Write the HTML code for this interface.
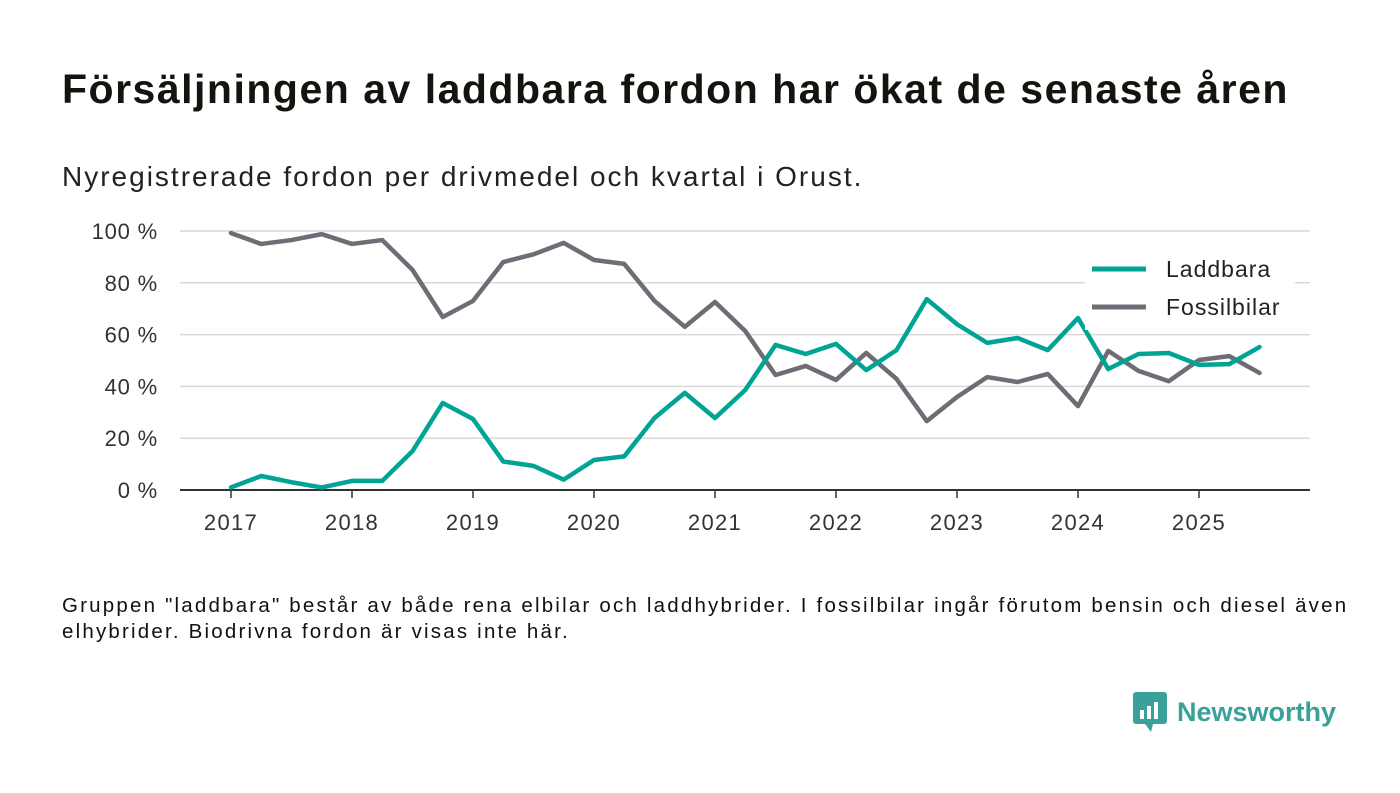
<!DOCTYPE html>
<html><head><meta charset="utf-8"><style>
body{margin:0;width:1400px;height:793px;background:#fff;font-family:"Liberation Sans","DejaVu Sans",sans-serif;overflow:hidden;position:relative}
.t{position:absolute;left:62px;top:66px;font-size:41px;letter-spacing:1.5px;font-weight:bold;color:#14140f;margin:0;white-space:nowrap}
.s{position:absolute;left:62px;top:161px;font-size:28px;letter-spacing:2px;color:#222;white-space:nowrap}
.n{position:absolute;left:62px;top:593px;font-size:20.5px;letter-spacing:2.2px;color:#111;line-height:26px;width:1330px;white-space:nowrap}
.logo{position:absolute;left:1133px;top:692px;display:flex;align-items:center;gap:10px;color:#3aa19a;font-weight:bold;font-size:27px}
</style></head><body>
<h1 class="t">Försäljningen av laddbara fordon har ökat de senaste åren</h1>
<div class="s">Nyregistrerade fordon per drivmedel och kvartal i Orust.</div>
<svg id="c" width="1400" height="793" style="position:absolute;left:0;top:0"></svg>
<div class="n">Gruppen "laddbara" består av både rena elbilar och laddhybrider. I fossilbilar ingår förutom bensin och diesel även<br>elhybrider. Biodrivna fordon är visas inte här.</div>
<div class="logo"><svg width="34" height="40" viewBox="0 0 34 40"><rect x="0" y="0" width="34" height="32" rx="3" fill="#3aa19a"/><path d="M12 32 L18 40 L20 32Z" fill="#3aa19a"/><rect x="7" y="18" width="4" height="9" fill="#fff"/><rect x="14" y="14" width="4" height="13" fill="#fff"/><rect x="21" y="10" width="4" height="17" fill="#fff"/></svg><span>Newsworthy</span></div>
<script>
const years=["2017","2018","2019","2020","2021","2022","2023","2024","2025"];
const yTicks=[0,20,40,60,80,100];
const laddbara=[1,5.4,3,1,3.5,3.5,15,33.6,27.4,11,9.3,4,11.6,13,27.8,37.5,27.8,38.6,56,52.5,56.4,46.3,54,73.7,64,56.8,58.7,54,66.4,46.7,52.5,52.9,48.3,48.6,55.2];
const fossil=[99.2,95,96.5,98.8,95,96.5,85,66.8,73,88,91,95.4,88.8,87.3,73,63,72.6,61.4,44.4,47.9,42.5,52.9,42.9,26.6,35.9,43.6,41.7,44.8,32.4,53.7,46,42,50.2,51.7,45.2];
const NS="http://www.w3.org/2000/svg",svg=document.getElementById('c');
const x=i=>231+i*(1199-231)/32, y=v=>490-v*2.59;
function mk(t,a,txt){const e=document.createElementNS(NS,t);for(const k in a)e.setAttribute(k,a[k]);if(txt!=null)e.textContent=txt;svg.appendChild(e);return e;}
yTicks.forEach(v=>{
 if(v>0){const g=mk('line',{x1:180,x2:1310,y1:y(v),y2:y(v),stroke:'#d9d9d9','stroke-width':1.5});
 
 }
 const t=mk('text',{x:158,y:y(v)+8,'text-anchor':'end','font-size':22,'letter-spacing':0.8,fill:'#333'},v+' %');
 
 
});
const ax=mk('line',{x1:180,x2:1310,y1:490,y2:490,stroke:'#333','stroke-width':2});


years.forEach((yr,i)=>{
 const px=x(i*4);
 mk('line',{x1:px,x2:px,y1:490,y2:498,stroke:'#333','stroke-width':1.5});
 const t=mk('text',{x:px,y:530,'text-anchor':'middle','font-size':22,'letter-spacing':1.3,fill:'#333'},yr);
 
 
});
function line(d,c,n){const p=mk('polyline',{points:d.map((v,i)=>x(i)+','+y(v)).join(' '),fill:'none',stroke:c,'stroke-width':4.5,'stroke-linejoin':'round','stroke-linecap':'round'});
 
 }
line(fossil,'#6e6d75','fossilbilar-line');
line(laddbara,'#00a495','laddbara-line');
mk('rect',{x:1085,y:250,width:210,height:80,fill:'#fff'});
[['Laddbara','#00a495',269],['Fossilbilar','#6e6d75',307]].forEach(([l,c,yy])=>{
 const g=mk('line',{x1:1092,x2:1146,y1:yy,y2:yy,stroke:c,'stroke-width':5});
 
 
 const t=mk('text',{x:1166,y:yy+8,'font-size':23,'letter-spacing':1,fill:'#222'},l);
 
 
});
</script>
</body></html>
